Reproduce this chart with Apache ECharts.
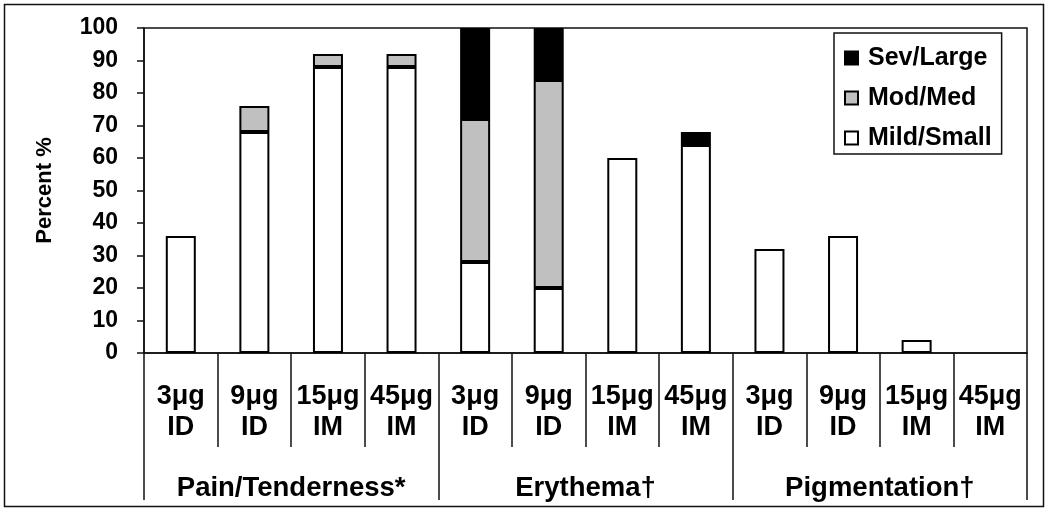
<!DOCTYPE html>
<html>
<head>
<meta charset="utf-8">
<script src="https://cdn.jsdelivr.net/npm/echarts@6/dist/echarts.min.js"></script>
<style>
html,body{margin:0;padding:0;background:#fff;}
#main{width:1050px;height:513px;}
</style>
</head>
<body>
<div id="main"></div>
<script>
var groups = ['Pain/Tenderness*', 'Erythema\u2020', 'Pigmentation\u2020'];
var doses = ['3\u03bcg', '9\u03bcg', '15\u03bcg', '45\u03bcg'];
var routes = ['ID', 'ID', 'IM', 'IM'];
var seriesNames = ['Sev/Large', 'Mod/Med', 'Mild/Small'];
// values per bar, order: Pain (4), Erythema (4), Pigmentation (4)
var mildSmall = [36, 68, 88, 88, 28, 20, 60, 64, 32, 36, 4, 0];
var modMed    = [0, 8, 4, 4, 44, 64, 0, 0, 0, 0, 0, 0];
var sevLarge  = [0, 0, 0, 0, 28, 16, 0, 4, 0, 0, 0, 0];
var yTicks = [0, 10, 20, 30, 40, 50, 60, 70, 80, 90, 100];

var categories = [];
var catLabels = [];
groups.forEach(function (g) {
  doses.forEach(function (d, i) {
    categories.push(g + ' ' + d + ' ' + routes[i]);
    catLabels.push(d + '\n' + routes[i]);
  });
});

var FONT = '"Liberation Sans", Arial, sans-serif';
var chart = echarts.init(document.getElementById('main'));
var barW = 30;
function barSeries(name, data, color) {
  return {
    name: name, type: 'bar', stack: 'total', barWidth: barW,
    // zero-height segments are left out so they do not draw extra border lines
    data: data.map(function (v) { return v === 0 ? '-' : v; }),
    xAxisIndex: 0, yAxisIndex: 0,
    itemStyle: { color: color, borderColor: '#000', borderWidth: 2 },
    emphasis: { disabled: true }
  };
}
chart.setOption({
  animation: false,
  backgroundColor: '#fff',
  textStyle: { fontFamily: FONT },
  grid: { left: 144, right: 23, top: 28, bottom: 160, show: true, borderColor: '#111', borderWidth: 1.5, backgroundColor: 'transparent' },
  legend: {
    data: seriesNames,
    orient: 'vertical',
    left: 834, top: 33,
    padding: [12, 10, 3, 10],
    itemGap: 14,
    itemWidth: 13, itemHeight: 13,
    icon: 'rect',
    borderColor: '#111', borderWidth: 1.5,
    backgroundColor: '#fff',
    textStyle: { fontFamily: FONT, fontWeight: 'bold', fontSize: 25, color: '#000', lineHeight: 26, padding: [0, 0, 0, 5] }
  },
  xAxis: [{
    type: 'category', data: categories, position: 'bottom',
    axisLine: { show: true, lineStyle: { color: '#111', width: 1.5 } },
    axisTick: { show: true, interval: 0, length: 94, lineStyle: { color: '#111', width: 1.5 } },
    axisLabel: {
      interval: 0, margin: 28, fontFamily: FONT, fontWeight: 'bold', fontSize: 27, color: '#000', lineHeight: 31,
      formatter: function (v, i) { return catLabels[i]; }
    },
    splitLine: { show: false }
  }, {
    type: 'category', data: groups, position: 'bottom',
    axisLine: { show: false },
    axisTick: { show: true, interval: 0, length: 147, lineStyle: { color: '#111', width: 1.5 } },
    axisLabel: { interval: 0, margin: 121, fontFamily: FONT, fontWeight: 'bold', fontSize: 27.5, color: '#000', lineHeight: 28 },
    splitLine: { show: false }
  }],
  yAxis: {
    type: 'value', min: 0, max: 100, interval: 10,
    name: 'Percent %', nameLocation: 'middle', nameGap: 88, nameRotate: 90,
    nameTextStyle: { fontFamily: FONT, fontWeight: 'bold', fontSize: 22, color: '#000' },
    axisLine: { show: true, lineStyle: { color: '#111', width: 1.5 } },
    axisTick: { show: true, length: 7, lineStyle: { color: '#111', width: 1.5 } },
    axisLabel: {
      margin: 26, fontFamily: FONT, fontWeight: 'bold', fontSize: 23, color: '#000',
      formatter: function (v) { return yTicks.indexOf(v) >= 0 ? String(v) : ''; }
    },
    splitLine: { show: false }
  },
  graphic: [{
    type: 'rect', silent: true, z: -1,
    shape: { x: 4.5, y: 4.5, width: 1039, height: 502 },
    style: { fill: 'none', stroke: '#111', lineWidth: 1.5 }
  }],
  series: [
    barSeries('Mild/Small', mildSmall, '#ffffff'),
    barSeries('Mod/Med', modMed, '#c0c0c0'),
    barSeries('Sev/Large', sevLarge, '#000000')
  ]
});
</script>
</body>
</html>
